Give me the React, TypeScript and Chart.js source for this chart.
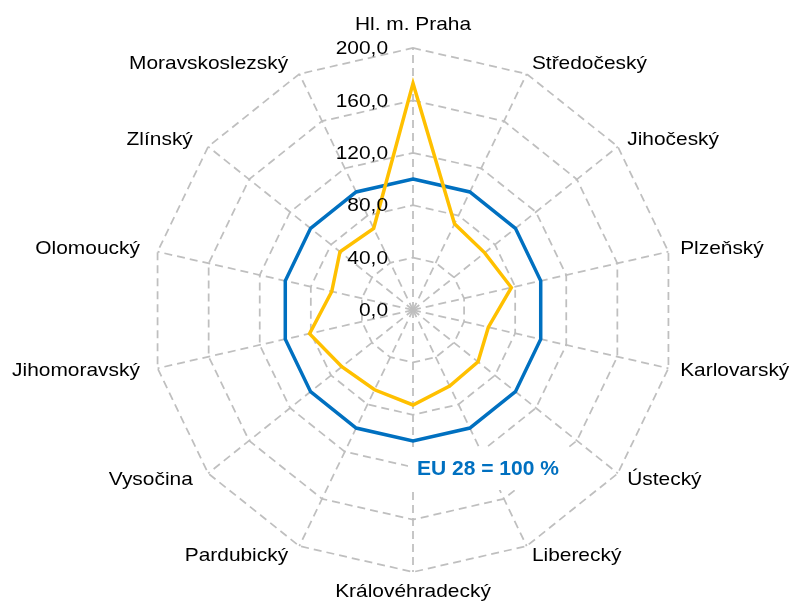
import React, { useEffect, useRef } from 'react';
import { Chart, registerables } from 'chart.js';

Chart.register(...registerables);

const categories = [
  'Hl. m. Praha',
  'Středočeský',
  'Jihočeský',
  'Plzeňský',
  'Karlovarský',
  'Ústecký',
  'Liberecký',
  'Královéhradecký',
  'Pardubický',
  'Vysočina',
  'Jihomoravský',
  'Olomoucký',
  'Zlínský',
  'Moravskoslezský',
];

const regionValues = [173, 73, 70, 77, 59, 63.5, 64.5, 72.5, 67.6, 69.5, 81, 63.6, 71.3, 69.2];
const euValues = [100, 100, 100, 100, 100, 100, 100, 100, 100, 100, 100, 100, 100, 100];
const tickValues = [0, 40, 80, 120, 160, 200];
const annotationText = 'EU 28 = 100 %';

const LABEL_FONT = '19px "Liberation Sans", Arial, sans-serif';
const EU_FONT = 'bold 21px "Liberation Sans", Arial, sans-serif';
const STRETCH = 1.1;
const BLUE = '#0070C0';
const YELLOW = '#FFC000';
const GRID = '#BFBFBF';

function fmt(v: number) {
  return v.toFixed(1).replace('.', ',');
}

function stretchedText(ctx: CanvasRenderingContext2D, text: string, x: number, y: number) {
  ctx.save();
  ctx.translate(x, y);
  ctx.scale(STRETCH, 1);
  ctx.fillText(text, 0, 0);
  ctx.restore();
}

export default function App() {
  const ref = useRef<HTMLCanvasElement>(null);

  useEffect(() => {
    const canvas = ref.current;
    if (!canvas) return;

    const textPlugin = {
      id: 'radarText',
      beforeDatasetsDraw(chart: any) {
        const scale = chart.scales.r;
        const ctx = chart.ctx;
        ctx.save();
        ctx.fillStyle = '#ffffff';
        ctx.fillRect(scale.xCenter - 5, scale.yCenter + 137, 158, 43);
        ctx.restore();
      },
      afterDatasetsDraw(chart: any) {
        const scale = chart.scales.r;
        const ctx = chart.ctx;
        ctx.save();
        // category labels
        ctx.font = LABEL_FONT;
        ctx.fillStyle = '#000000';
        ctx.textBaseline = 'middle';
        for (let i = 0; i < categories.length; i++) {
          const angle = scale.getIndexAngle(i);
          const s = Math.sin(angle);
          const c = Math.cos(angle);
          const v = scale.getPointPosition(i, scale.drawingArea);
          let x: number;
          let y: number;
          if (Math.abs(s) < 1e-6) {
            ctx.textAlign = 'center';
            x = v.x;
            y = v.y + (c > 0 ? -23 : 20);
          } else if (s > 0) {
            ctx.textAlign = 'left';
            x = v.x + 12 * s;
            y = v.y - 11 * c;
          } else {
            ctx.textAlign = 'right';
            x = v.x + 12 * s - 6;
            y = v.y - 11 * c;
          }
          stretchedText(ctx, categories[i], x, y);
        }
        // tick labels
        ctx.textAlign = 'right';
        for (const t of tickValues) {
          const d = scale.getDistanceFromCenterForValue(t);
          stretchedText(ctx, fmt(t), scale.xCenter - 25, scale.yCenter - d + 1);
        }
        // annotation
        ctx.font = EU_FONT;
        ctx.fillStyle = BLUE;
        ctx.textAlign = 'left';
        ctx.fillText(annotationText, scale.xCenter + 4, scale.yCenter + 159);
        ctx.restore();
      },
    };

    const chart = new Chart(canvas, {
      type: 'radar',
      data: {
        labels: categories,
        datasets: [
          {
            label: 'Kraje',
            data: regionValues,
            borderColor: YELLOW,
            backgroundColor: YELLOW,
            borderWidth: 3.5,
            pointRadius: 0,
            fill: false,
            tension: 0,
          },
          {
            label: 'EU 28',
            data: euValues,
            borderColor: BLUE,
            backgroundColor: BLUE,
            borderWidth: 3.5,
            pointRadius: 0,
            fill: false,
            tension: 0,
          },
        ],
      },
      options: {
        responsive: false,
        animation: false,
        layout: { padding: { left: 113, right: 78, top: 48, bottom: 33 } },
        plugins: {
          legend: { display: false },
          tooltip: { enabled: false },
        },
        scales: {
          r: {
            min: 0,
            max: 200,
            ticks: { display: false, stepSize: 40 },
            pointLabels: { display: false },
            grid: { color: GRID, lineWidth: 1.75 },
            border: { dash: [8, 5] },
            angleLines: { color: GRID, lineWidth: 1.75, borderDash: [8, 5] },
          },
        },
      } as any,
      plugins: [textPlugin],
    });

    return () => chart.destroy();
  }, []);

  return (
    <div style={{ position: 'fixed', left: 0, top: 0, width: 791, height: 605, background: '#ffffff' }}>
      <canvas ref={ref} width={791} height={605} style={{ display: 'block' }} />
    </div>
  );
}
